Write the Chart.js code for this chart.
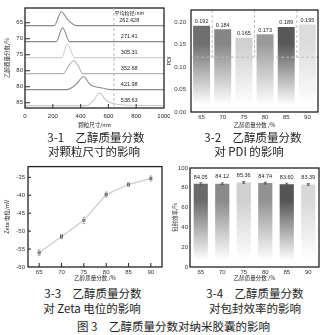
<!DOCTYPE html>
<html>
<head>
<meta charset="utf-8">
<script src="https://cdn.jsdelivr.net/npm/chart.js@4.4.1/dist/chart.umd.min.js"></script>
<style>
body { margin: 0; background: #fff; width: 324px; height: 335px; position: relative; overflow: hidden; font-family: "Noto Sans CJK SC", "Noto Sans", sans-serif; }
canvas { position: absolute; }
.cap { position: absolute; width: 170px; text-align: center; font-size: 11.5px; color: #222; line-height: 13px; white-space: nowrap; }
</style>
</head>
<body>
<canvas id="c1" width="170" height="135" style="left:0;top:0"></canvas>
<canvas id="c2" width="162" height="135" style="left:162px;top:0"></canvas>
<canvas id="c3" width="170" height="125" style="left:0;top:160px"></canvas>
<canvas id="c4" width="162" height="125" style="left:162px;top:160px"></canvas>

<div class="cap" style="left:11px;top:131px">3-1　乙醇质量分数</div>
<div class="cap" style="left:9px;top:145px">对颗粒尺寸的影响</div>
<div class="cap" style="left:168px;top:131px">3-2　乙醇质量分数</div>
<div class="cap" style="left:164px;top:145px">对 PDI 的影响</div>
<div class="cap" style="left:8px;top:287px">3-3　乙醇质量分数</div>
<div class="cap" style="left:7px;top:302px">对 Zeta 电位的影响</div>
<div class="cap" style="left:170px;top:287px">3-4　乙醇质量分数</div>
<div class="cap" style="left:170px;top:302px">对包封效率的影响</div>
<div class="cap" style="left:77px;top:320px">图 3　乙醇质量分数对纳米胶囊的影响</div>

<script>
// ---- 3-1 particle size distribution ----
const rowLabels = ['65', '70', '75', '80', '80', '85'];
const meanSizes = ['262.428', '271.41', '305.31', '352.68', '421.98', '538.63'];
const sizeTicks = [0, 200, 400, 600, 800, 1000];
const size65 = [0, 210, 262, 305, 370, 1000];
const int65 = [0, 0, 0.87, 0.4, 0, 0];
const size70 = [0, 225, 271, 320, 1000];
const int70 = [0, 0, 0.87, 0, 0];
const size75 = [0, 265, 305, 355, 1000];
const int75 = [0, 0, 0.87, 0, 0];
const size80 = [0, 275, 315, 350, 385, 415, 1000];
const int80 = [0, 0, 0.5, 0.8, 0.45, 0, 0];
const size80b = [0, 300, 362, 422, 470, 545, 615, 1000];
const int80b = [0, 0, 0.28, 0.8, 0.3, 0.12, 0, 0];
const size85 = [0, 445, 490, 538, 580, 640, 760, 1000];
const int85 = [0, 0, 0.3, 0.8, 0.35, 0.12, 0.02, 0];

// ---- 3-2 PDI ----
const ethanol = ['65', '70', '75', '80', '85', '90'];
const pdi = [0.192, 0.184, 0.165, 0.173, 0.189, 0.195];
const pdiText = ['0.192', '0.184', '0.165', '0.173', '0.189', '0.195'];
const pdiTicks = [0, 0.05, 0.10, 0.15, 0.20];

// ---- 3-3 Zeta ----
const zetaX = [65, 70, 75, 80, 85, 90];
const zeta = [-56.0, -51.5, -47.0, -39.8, -37.0, -35.3];
const zetaErr = [0.8, 0.6, 0.9, 0.7, 0.5, 0.7];
const zetaTicks = [-60, -55, -50, -45, -40, -35];

// ---- 3-4 encapsulation efficiency ----
const ee = [84.05, 84.12, 85.36, 84.74, 83.60, 83.39];
const eeText = ['84.05', '84.12', '85.36', '84.74', '83.60', '83.39'];
const eeErr = [1.0, 0.9, 0.8, 0.9, 1.0, 0.8];

const rowColors = ['#8a8a8a', '#8a8a8a', '#d2d2d2', '#b5b5b5', '#8c8c8c', '#c8c8c8'];
const pdiColors = ['#6f6f6f', '#868686', '#cfcfcf', '#9a9a9a', '#585858', '#dcdcdc'];
const eeColors = ['#6a6a6a', '#8a8a8a', '#d0d0d0', '#929292', '#555555', '#d8d8d8'];

const tickFont = {family: 'Liberation Sans', size: 6};
const cjkFont = {family: 'Noto Sans CJK SC', size: 5.5};
const noGrid = {display: false, drawTicks: false};

function fade(chart, col) {
    const a = chart.chartArea;
    if (!a) return col;
    const g = chart.ctx.createLinearGradient(0, a.top, 0, a.bottom);
    g.addColorStop(0, col);
    g.addColorStop(0.33, col);
    g.addColorStop(0.93, '#ffffff');
    return g;
}

const boxPlugin = {
    id: 'box',
    afterDraw(chart) {
        const {ctx, chartArea: a} = chart;
        ctx.save();
        ctx.strokeStyle = '#222';
        ctx.lineWidth = 1.3;
        ctx.strokeRect(a.left, a.top, a.right - a.left, a.bottom - a.top);
        ctx.restore();
    }
};

const innerTicks = {
    id: 'innerTicks',
    afterDatasetsDraw(chart, args, opts) {
        const {ctx, chartArea: a, scales} = chart;
        ctx.save();
        ctx.strokeStyle = opts.color || '#444';
        ctx.lineWidth = 1.1;
        scales.x.ticks.forEach(t => {
            if (opts.skipX && opts.skipX.includes(t.value)) return;
            const px = scales.x.getPixelForValue(t.value);
            ctx.beginPath(); ctx.moveTo(px, a.bottom); ctx.lineTo(px, a.bottom - opts.len); ctx.stroke();
        });
        scales.y.ticks.forEach(t => {
            if (opts.skipY && opts.skipY.includes(t.value)) return;
            const py = scales.y.getPixelForValue(t.value);
            ctx.beginPath(); ctx.moveTo(a.left, py); ctx.lineTo(a.left + opts.lenY, py); ctx.stroke();
        });
        ctx.restore();
    }
};

const errBars = {
    id: 'errBars',
    afterDatasetsDraw(chart, args, opts) {
        const {ctx, scales} = chart;
        const meta = chart.getDatasetMeta(0);
        const vals = chart.data.datasets[0].data;
        ctx.save();
        ctx.strokeStyle = opts.color;
        ctx.lineWidth = 0.9;
        meta.data.forEach((el, i) => {
            const v = typeof vals[i] === 'object' ? vals[i].y : vals[i];
            const y1 = scales.y.getPixelForValue(v + opts.errors[i]);
            const y2 = scales.y.getPixelForValue(v - opts.errors[i]);
            ctx.beginPath();
            ctx.moveTo(el.x, y1); ctx.lineTo(el.x, y2);
            ctx.moveTo(el.x - opts.cap, y1); ctx.lineTo(el.x + opts.cap, y1);
            ctx.moveTo(el.x - opts.cap, y2); ctx.lineTo(el.x + opts.cap, y2);
            ctx.stroke();
        });
        ctx.restore();
    }
};

const barLabels = {
    id: 'barLabels',
    afterDraw(chart, args, opts) {
        const {ctx} = chart;
        const meta = chart.getDatasetMeta(0);
        ctx.save();
        ctx.fillStyle = '#222';
        ctx.font = '5.5px "Liberation Sans"';
        ctx.textAlign = 'center';
        ctx.textBaseline = 'bottom';
        meta.data.forEach((el, i) => {
            ctx.fillText(opts.labels[i], el.x, el.y - opts.offset);
        });
        ctx.restore();
    }
};

// 3-1 extras: x tick labels, dashed marker line and mean size text
const sizeNotes = {
    id: 'sizeNotes',
    afterDraw(chart) {
        const {ctx, chartArea: a, scales} = chart;
        ctx.save();
        const dx = scales.x.getPixelForValue(640);
        ctx.strokeStyle = '#aaa';
        ctx.lineWidth = 0.8;
        ctx.setLineDash([3, 2]);
        ctx.beginPath(); ctx.moveTo(dx, a.top); ctx.lineTo(dx, a.bottom); ctx.stroke();
        ctx.setLineDash([]);
        ctx.fillStyle = '#222';
        ctx.textAlign = 'center';
        ctx.textBaseline = 'middle';
        ctx.font = '6px "Liberation Sans"';
        sizeTicks.forEach(v => {
            ctx.fillText(String(v), scales.x.getPixelForValue(v), a.bottom + 8.5);
        });
        const tx = scales.x.getPixelForValue(750);
        ctx.font = '5px "Noto Sans CJK SC"';
        ctx.fillText('平均粒径/nm', tx, scales.y.getPixelForValue(5.8));
        ctx.font = '5.5px "Liberation Sans"';
        meanSizes.forEach((s, i) => {
            ctx.fillText(s, tx, scales.y.getPixelForValue(5 - i + 0.3));
        });
        ctx.restore();
    }
};

// 3-2 extras: dashed guide lines
const pdiGuides = {
    id: 'pdiGuides',
    afterDatasetsDraw(chart) {
        const {ctx, chartArea: a, scales} = chart;
        const hy = scales.y.getPixelForValue(0.122);
        ctx.save();
        ctx.strokeStyle = '#b8b8b8';
        ctx.lineWidth = 0.9;
        ctx.setLineDash([3, 2]);
        ctx.beginPath(); ctx.moveTo(a.left, hy); ctx.lineTo(a.right, hy); ctx.stroke();
        [0, 2, 4].forEach(i => {
            const vx = (scales.x.getPixelForValue(i) + scales.x.getPixelForValue(i + 1)) / 2;
            ctx.beginPath(); ctx.moveTo(vx, a.top); ctx.lineTo(vx, hy); ctx.stroke();
        });
        ctx.restore();
    }
};

const base = {
    responsive: false,
    animation: false,
    events: []
};

// ---------- 3-1 ----------
const curveSizes = [size65, size70, size75, size80, size80b, size85];
const curveInts = [int65, int70, int75, int80, int80b, int85];
new Chart(document.getElementById('c1'), {
    type: 'line',
    data: {
        datasets: curveSizes.map((xs, i) => ({
            data: xs.map((x, j) => ({x: x, y: (5 - i) + curveInts[i][j]})),
            borderColor: rowColors[i],
            borderWidth: 1.1,
            pointRadius: 0,
            cubicInterpolationMode: 'monotone',
            fill: false
        }))
    },
    options: {
        ...base,
        layout: {padding: {top: 8, right: 6, left: 0, bottom: 0}},
        plugins: {legend: {display: false}, tooltip: {enabled: false},
            innerTicks: {len: 4, lenY: 5, skipX: [0, 1000], color: '#444'}},
        scales: {
            x: {
                type: 'linear', min: 0, max: 1000,
                afterFit: s => { s.height = 27; },
                afterBuildTicks: s => { s.ticks = sizeTicks.map(v => ({value: v})); },
                grid: noGrid, border: {display: false},
                ticks: {display: false},
                title: {display: true, text: '颗粒尺寸/nm', font: cjkFont, color: '#222', padding: {top: 0, bottom: 7}}
            },
            y: {
                type: 'linear', min: -0.15, max: 6.1,
                afterFit: s => { s.width = 25; },
                afterBuildTicks: s => { s.ticks = rowLabels.map((l, i) => ({value: 5 - i + 0.18})); },
                grid: noGrid, border: {display: false},
                ticks: {font: tickFont, color: '#333', padding: 2, autoSkip: false,
                    callback: (v, idx) => rowLabels[idx]},
                title: {display: true, text: '乙醇质量分数/%', font: cjkFont, color: '#222', padding: {top: 4, bottom: 0}}
            }
        }
    },
    plugins: [boxPlugin, innerTicks, sizeNotes]
});

// ---------- 3-2 ----------
new Chart(document.getElementById('c2'), {
    type: 'bar',
    data: {
        labels: ethanol,
        datasets: [{
            data: pdi,
            backgroundColor: c => fade(c.chart, pdiColors[c.dataIndex]),
            borderWidth: 0,
            categoryPercentage: 1,
            barPercentage: 0.8
        }]
    },
    options: {
        ...base,
        layout: {padding: {top: 10, right: 6, left: 0, bottom: 0}},
        plugins: {legend: {display: false}, tooltip: {enabled: false},
            barLabels: {labels: pdiText, offset: 1.5}},
        scales: {
            x: {
                afterFit: s => { s.height = 23; },
                grid: noGrid, border: {display: false},
                ticks: {font: tickFont, color: '#333', padding: 2, maxRotation: 0},
                title: {display: true, text: '乙醇质量分数 /%', font: cjkFont, color: '#222', padding: {top: 0, bottom: 6.5}}
            },
            y: {
                min: 0, max: 0.227,
                afterFit: s => { s.width = 29; },
                afterBuildTicks: s => { s.ticks = pdiTicks.map(v => ({value: v})); },
                grid: noGrid, border: {display: false},
                ticks: {font: tickFont, color: '#333', padding: 5, callback: v => v.toFixed(2)},
                title: {display: true, text: 'PDI', font: {family: 'Liberation Sans', size: 5.5}, color: '#222', padding: {top: 4.5, bottom: 0}}
            }
        }
    },
    plugins: [boxPlugin, pdiGuides, barLabels]
});

// ---------- 3-3 ----------
new Chart(document.getElementById('c3'), {
    type: 'line',
    data: {
        datasets: [{
            data: zetaX.map((x, i) => ({x: x, y: zeta[i]})),
            borderColor: '#cccccc',
            borderWidth: 1.3,
            pointStyle: 'rect',
            pointRadius: 2.1,
            pointBackgroundColor: '#606060',
            pointBorderColor: '#606060',
            pointBorderWidth: 0,
            fill: false
        }]
    },
    options: {
        ...base,
        layout: {padding: {top: 3, right: 8, left: 0, bottom: 0}},
        plugins: {legend: {display: false}, tooltip: {enabled: false},
            errBars: {errors: zetaErr, color: '#a8a8a8', cap: 1.5},
            innerTicks: {len: 4, lenY: 3, skipY: [-60], color: '#333'}},
        scales: {
            x: {
                type: 'linear', min: 62.5, max: 92.5,
                afterFit: s => { s.height = 18; },
                afterBuildTicks: s => { s.ticks = zetaX.map(v => ({value: v})); },
                grid: noGrid, border: {display: false},
                ticks: {font: tickFont, color: '#333', padding: 2, maxRotation: 0, autoSkip: false},
                title: {display: true, text: '乙醇质量分数 /%', font: cjkFont, color: '#222', padding: {top: 0, bottom: 3.7}}
            },
            y: {
                type: 'linear', min: -60, max: -32,
                afterFit: s => { s.width = 28; },
                afterBuildTicks: s => { s.ticks = zetaTicks.map(v => ({value: v})); },
                grid: noGrid, border: {display: false},
                ticks: {font: tickFont, color: '#333', padding: 3, autoSkip: false},
                title: {display: true, text: 'Zeta 电位/mV', font: cjkFont, color: '#222', padding: {top: 4, bottom: 0}}
            }
        }
    },
    plugins: [boxPlugin, errBars, innerTicks]
});

// ---------- 3-4 ----------
new Chart(document.getElementById('c4'), {
    type: 'bar',
    data: {
        labels: ethanol,
        datasets: [{
            data: ee,
            backgroundColor: c => fade(c.chart, eeColors[c.dataIndex]),
            borderWidth: 0,
            categoryPercentage: 1,
            barPercentage: 0.66
        }]
    },
    options: {
        ...base,
        layout: {padding: {top: 8, right: 5, left: 0, bottom: 0}},
        plugins: {legend: {display: false}, tooltip: {enabled: false},
            errBars: {errors: eeErr, color: '#555', cap: 1.5},
            barLabels: {labels: eeText, offset: 4}},
        scales: {
            x: {
                afterFit: s => { s.height = 18; },
                grid: noGrid, border: {display: false},
                ticks: {font: tickFont, color: '#333', padding: 2, maxRotation: 0},
                title: {display: true, text: '乙醇质量分数 /%', font: cjkFont, color: '#222', padding: {top: 0, bottom: 3.7}}
            },
            y: {
                min: 0, max: 100,
                afterFit: s => { s.width = 28; },
                grid: noGrid, border: {display: false},
                ticks: {font: tickFont, color: '#333', padding: 2, stepSize: 20},
                title: {display: true, text: '包封效率/%', font: cjkFont, color: '#222', padding: {top: 9.5, bottom: 0}}
            }
        }
    },
    plugins: [boxPlugin, errBars, barLabels]
});
</script>
</body>
</html>
